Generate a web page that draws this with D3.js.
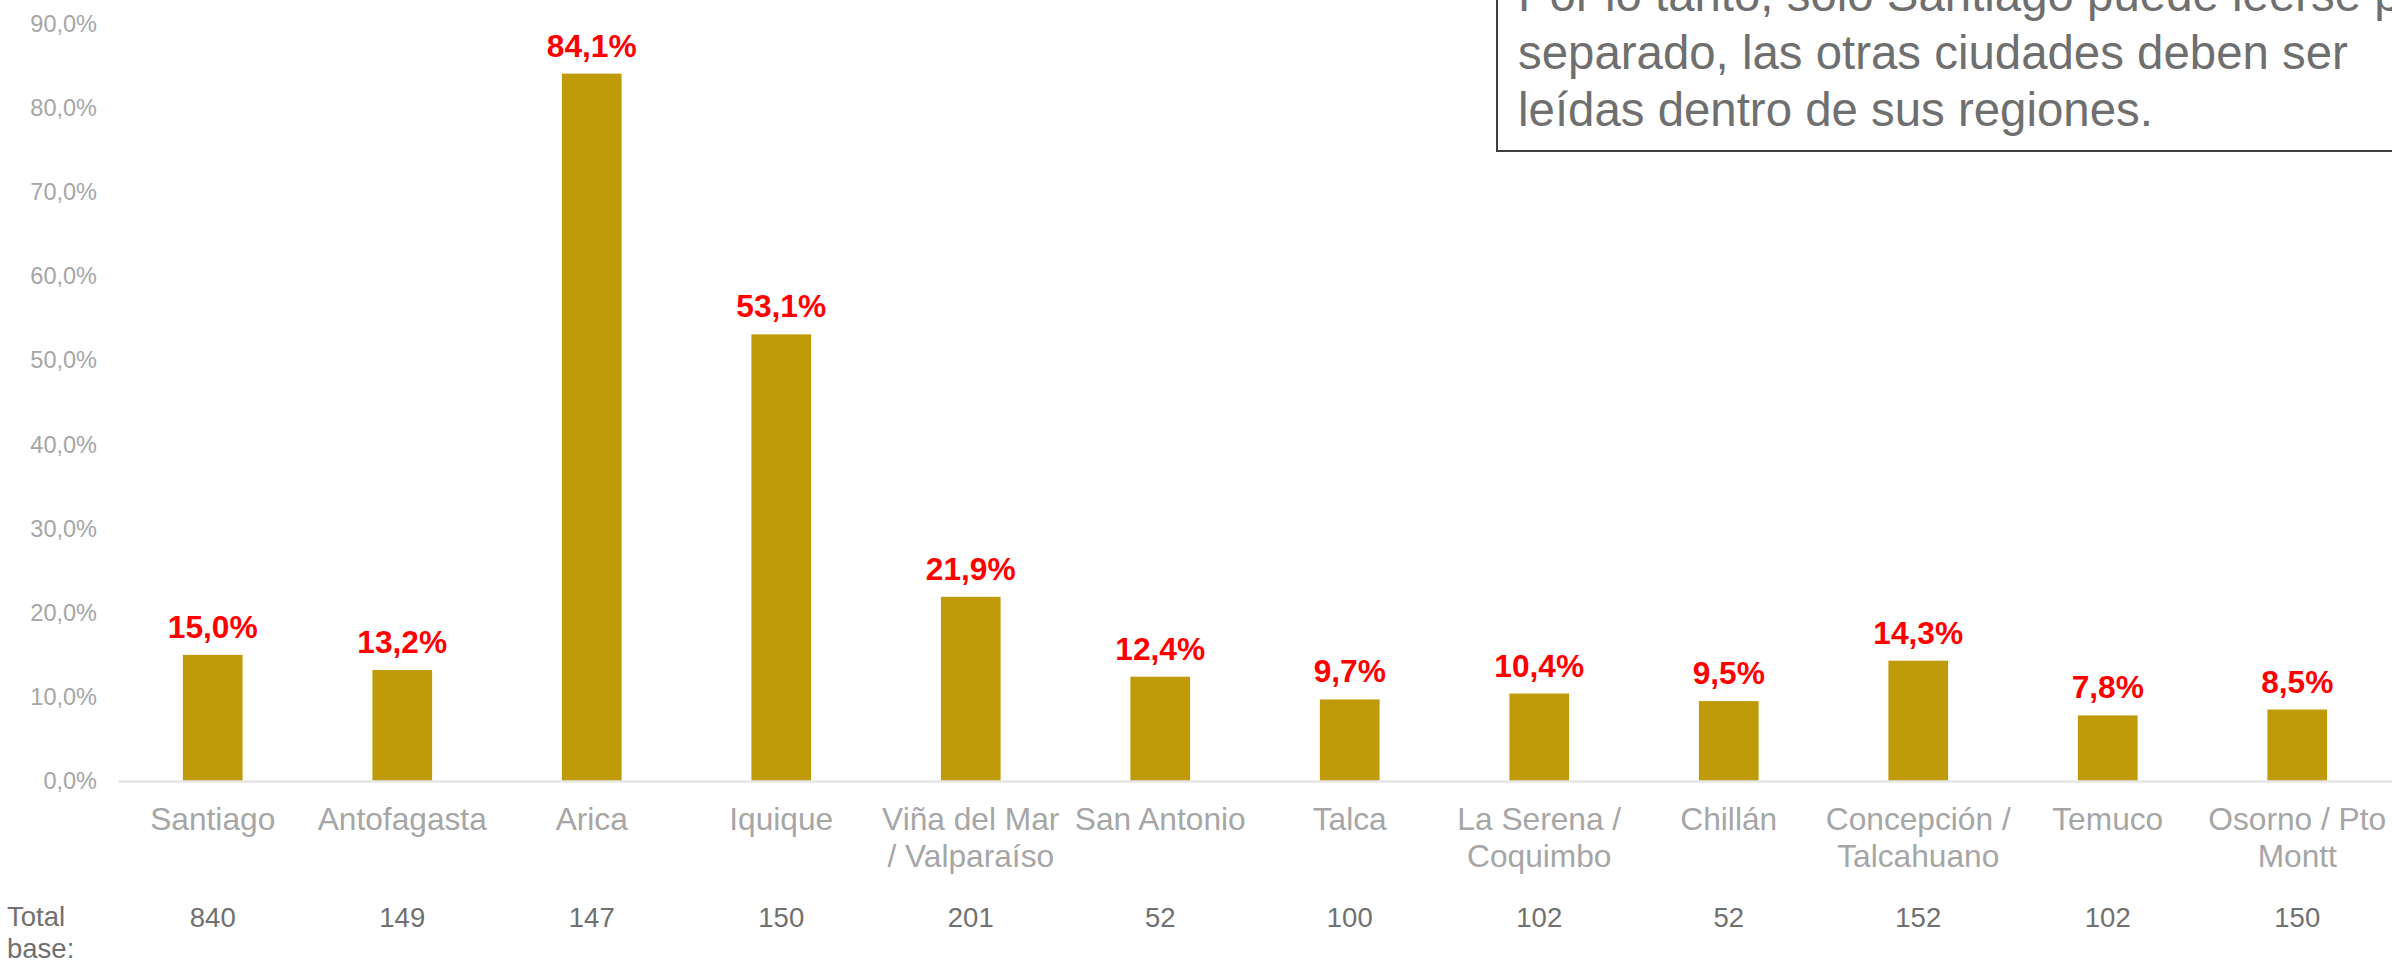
<!DOCTYPE html>
<html lang="es">
<head>
<meta charset="utf-8">
<script src="https://d3js.org/d3.v7.min.js"></script>
<style>
body { margin: 0; background: #fff; font-family: "Liberation Sans", Arial, sans-serif; }
svg { display: block; }
</style>
</head>
<body>
<div id="chart"></div>
<script>
// categories, values (%), base counts
var cities = ["Santiago", "Antofagasta", "Arica", "Iquique", "Viña del Mar / Valparaíso",
  "San Antonio", "Talca", "La Serena / Coquimbo", "Chillán", "Concepción / Talcahuano",
  "Temuco", "Osorno / Pto Montt"];
var pct = [15.0, 13.2, 84.1, 53.1, 21.9, 12.4, 9.7, 10.4, 9.5, 14.3, 7.8, 8.5];
var bases = [840, 149, 147, 150, 201, 52, 100, 102, 52, 152, 102, 150];
var yTicks = [0, 10, 20, 30, 40, 50, 60, 70, 80, 90];
var baseLabel = ["Total", "base:"];
var noteLines = ["Por lo tanto, solo Santiago puede leerse por",
  "separado, las otras ciudades deben ser",
  "leídas dentro de sus regiones."];

var width = 2392, height = 961;
var fmt = function(v) { return v.toFixed(1).replace(".", ",") + "%"; };

var svg = d3.select("#chart").append("svg")
  .attr("width", width)
  .attr("height", height);

var x = d3.scaleBand()
  .domain(cities)
  .range([118, 2392])
  .padding(0);

var y = d3.scaleLinear()
  .domain([0, 90])
  .range([781, 24]);

var barW = x.bandwidth() * 0.315;

// y axis
var yAxis = svg.append("g")
  .attr("transform", "translate(118,0)")
  .call(d3.axisLeft(y).tickValues(yTicks).tickSize(0).tickPadding(21).tickFormat(fmt));
yAxis.select(".domain").remove();
yAxis.selectAll("text")
  .style("font-family", "Liberation Sans, Arial, sans-serif")
  .style("font-size", "23.5px")
  .attr("fill", "#a6a6a6");

// bars
svg.selectAll("rect.bar")
  .data(pct)
  .enter()
  .append("rect")
  .attr("class", "bar")
  .attr("x", function(d, i) { return x(cities[i]) + (x.bandwidth() - barW) / 2; })
  .attr("y", function(d) { return y(d); })
  .attr("width", barW)
  .attr("height", function(d) { return y(0) - y(d); })
  .attr("fill", "#bf9a09");

// x axis baseline + category labels
var xAxis = svg.append("g")
  .attr("transform", "translate(0," + y(0) + ")")
  .call(d3.axisBottom(x).tickSize(0).tickSizeOuter(0).tickFormat(""));
xAxis.select(".domain").attr("stroke", "#e6e6e6").attr("stroke-width", 2.5);

var catG = svg.append("g");
cities.forEach(function(c) {
  var cx = x(c) + x.bandwidth() / 2;
  var t = catG.append("text")
    .attr("x", cx)
    .attr("y", 830)
    .attr("text-anchor", "middle")
    .attr("fill", "#a6a6a6")
    .style("font-size", "31.7px");
  // simple word wrap to band width
  var words = c.split(" "), line = [];
  var tspan = t.append("tspan").attr("x", cx).attr("dy", 0);
  words.forEach(function(w) {
    line.push(w);
    tspan.text(line.join(" "));
    if (tspan.node().getComputedTextLength() > x.bandwidth() - 4 && line.length > 1) {
      line.pop();
      tspan.text(line.join(" "));
      line = [w];
      tspan = t.append("tspan").attr("x", cx).attr("dy", 37).text(w);
    }
  });
});

// value labels
svg.selectAll("text.val")
  .data(pct)
  .enter()
  .append("text")
  .attr("class", "val")
  .attr("x", function(d, i) { return x(cities[i]) + x.bandwidth() / 2; })
  .attr("y", function(d) { return y(d) - 17; })
  .attr("text-anchor", "middle")
  .attr("fill", "#ff0000")
  .style("font-size", "31.7px")
  .style("font-weight", "bold")
  .text(fmt);

// total base row
svg.selectAll("text.base")
  .data(bases)
  .enter()
  .append("text")
  .attr("class", "base")
  .attr("x", function(d, i) { return x(cities[i]) + x.bandwidth() / 2; })
  .attr("y", 927)
  .attr("text-anchor", "middle")
  .attr("fill", "#707070")
  .style("font-size", "27.5px")
  .text(function(d) { return d; });

svg.append("text")
  .attr("x", 7)
  .attr("y", 926)
  .attr("fill", "#707070")
  .style("font-size", "27.5px")
  .selectAll("tspan")
  .data(baseLabel)
  .enter()
  .append("tspan")
  .attr("x", 7)
  .attr("dy", function(d, i) { return i ? 32 : 0; })
  .text(function(d) { return d; });

// note box (runs off the top and right edge)
svg.append("rect")
  .attr("x", 1497)
  .attr("y", -20)
  .attr("width", 1000)
  .attr("height", 171)
  .attr("fill", "#fff")
  .attr("stroke", "#3f3f3f")
  .attr("stroke-width", 2);

svg.append("g").selectAll("text")
  .data(noteLines)
  .enter()
  .append("text")
  .attr("x", 1518)
  .attr("y", function(d, i) { return 11 + i * 57.5; })
  .attr("fill", "#6f6f6f")
  .style("font-size", "47.4px")
  .text(function(d) { return d; });
</script>
</body>
</html>
